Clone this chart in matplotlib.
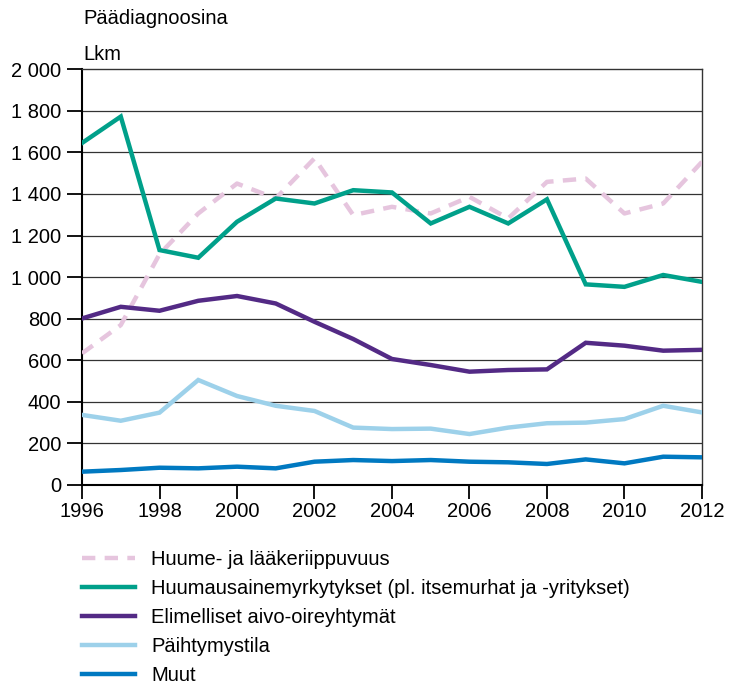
import numpy as np
import matplotlib.pyplot as plt
from matplotlib.ticker import FuncFormatter

plt.rcParams['font.family'] = ['Liberation Sans', 'DejaVu Sans']

years = np.arange(1996, 2013)
huume = [633, 769, 1110, 1306, 1450, 1378, 1571, 1298, 1338, 1306, 1386, 1282, 1458, 1474, 1306, 1354, 1554]
myrkytys = [1645, 1772, 1130, 1093, 1266, 1378, 1354, 1418, 1407, 1258, 1338, 1258, 1374, 965, 953, 1010, 977]
aivo = [801, 857, 838, 886, 909, 873, 785, 702, 606, 577, 545, 553, 556, 684, 670, 646, 650]
paihtymys = [337, 309, 348, 505, 428, 381, 356, 276, 269, 271, 245, 276, 297, 300, 317, 381, 349]
muut = [64, 72, 83, 80, 88, 80, 112, 120, 115, 120, 112, 109, 101, 123, 104, 136, 133]

labels = ['Huume- ja lääkeriippuvuus',
          'Huumausainemyrkytykset (pl. itsemurhat ja -yritykset)',
          'Elimelliset aivo-oireyhtymät',
          'Päihtymystila',
          'Muut']
colors = ['#e6c5de', '#00a08a', '#532a85', '#9dd1ea', '#0079c1']

fs = 14.5
fig = plt.figure(figsize=(7.35, 6.85), dpi=100)
ax = fig.add_axes([0.1116, 0.292, 0.8434, 0.607])

for v in range(200, 2000, 200):
    ax.axhline(v, color='#333333', lw=0.9, zorder=1)

series = [huume, myrkytys, aivo, paihtymys, muut]
order = [4, 3, 2, 0, 1]
lines = {}
for i in order:
    ls = (0, (3.0, 2.1)) if i == 0 else '-'
    ln, = ax.plot(years, series[i], color=colors[i], lw=3.2, ls=ls,
                  solid_joinstyle='miter', zorder=3 + i, label=labels[i])
    lines[i] = ln

ax.set_xlim(1996, 2012)
ax.set_ylim(0, 2000)
ax.set_xticks(np.arange(1996, 2013, 2))
ax.set_yticks(np.arange(0, 2001, 200))
ax.yaxis.set_major_formatter(FuncFormatter(lambda v, p: f'{int(v):,}'.replace(',', ' ')))
ax.tick_params(axis='both', direction='out', width=1.3, labelsize=fs, color='black')
ax.tick_params(axis='x', length=10, pad=2)
ax.tick_params(axis='y', length=11, pad=4)
for s in ax.spines.values():
    s.set_linewidth(1.5)
    s.set_color('black')
ax.spines['top'].set_linewidth(1.0)
ax.spines['right'].set_linewidth(1.0)
ax.spines['top'].set_color('#333333')
ax.spines['right'].set_color('#333333')

fig.text(83 / 735, 1 - 18 / 685, 'Päädiagnoosina', fontsize=fs, va='center', ha='left')
fig.text(83 / 735, 1 - 55 / 685, 'Lkm', fontsize=fs, va='center', ha='left')

fig.legend([lines[i] for i in range(5)], labels, loc='upper left',
           bbox_to_anchor=(82 / 735, 1 - 550 / 685), frameon=False,
           fontsize=fs, handlelength=2.63, handletextpad=0.8, labelspacing=0.5,
           borderaxespad=0, borderpad=0)

fig.savefig('out.png', dpi=100)
